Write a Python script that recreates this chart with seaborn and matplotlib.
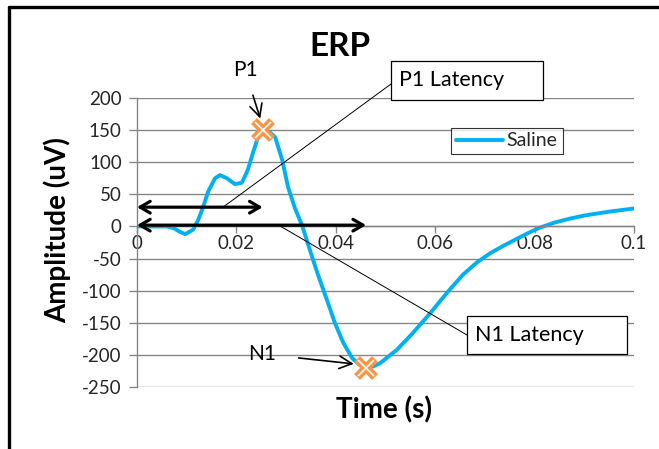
import numpy as np
import pandas as pd
import seaborn as sns
import matplotlib.pyplot as plt
from matplotlib.lines import Line2D
from matplotlib.patches import Rectangle

# ---- data ----
time_s = [0.0, 0.003, 0.006, 0.0075, 0.0085, 0.0097, 0.0113, 0.0123, 0.0133, 0.0143,
          0.0157, 0.0167, 0.0181, 0.0197, 0.0211, 0.0223, 0.0233, 0.0243, 0.0253, 0.0265,
          0.0278, 0.0292, 0.0304, 0.0318, 0.0332, 0.0348, 0.0364, 0.0382, 0.0398, 0.0415,
          0.0433, 0.0447, 0.0461, 0.0475, 0.0489, 0.0523, 0.0555, 0.0590, 0.0624, 0.0656,
          0.0684, 0.0710, 0.0735, 0.0760, 0.0785, 0.0810, 0.0840, 0.0870, 0.0900, 0.0950,
          0.1000]
amplitude_uv = [0, 0, 0, -3, -8, -12, -5, 10, 30, 54,
                75, 80, 75, 66, 68, 88, 114, 138, 150, 148,
                139, 104, 61, 28, 2, -37, -75, -114, -150, -181,
                -205, -215, -220, -218, -213, -192, -166, -135, -103, -75,
                -56, -42, -31, -21, -11, -2, 6, 12, 17, 23,
                28]
peak_labels = ["P1", "N1"]
peak_time = [0.0253, 0.0461]
peak_amp = [150, -220]
latency_labels = ["P1 Latency", "N1 Latency"]
latency_arrow_y = [30, 2]
series_name = "Saline"
y_ticks = [200, 150, 100, 50, 0, -50, -100, -150, -200, -250]
x_ticks = [0, 0.02, 0.04, 0.06, 0.08, 0.1]
x_tick_labels = ["0", "0.02", "0.04", "0.06", "0.08", "0.1"]

df = pd.DataFrame({"Time (s)": time_s, "Amplitude (uV)": amplitude_uv,
                   "series": series_name})

sns.set_theme(style="white")
plt.rcParams['font.family'] = ['Lato', 'DejaVu Sans']

W, H = 659, 449
fig = plt.figure(figsize=(W / 100, H / 100), dpi=100)
ax = fig.add_axes([137 / W, 1 - 387 / H, (634 - 137) / W, (387 - 98) / H])

line_col = "#00B0F0"
grid_col = "#868686"
txt_col = "#262626"
sns.lineplot(data=df, x="Time (s)", y="Amplitude (uV)", hue="series",
             palette=[line_col], linewidth=2.8, ax=ax, legend=False)
ax.lines[0].set_solid_joinstyle("round")

# peak markers (Excel style x)
ax.plot(peak_time, peak_amp, linestyle="none", marker="x", ms=13, mew=6,
        color="#F79646", zorder=5)
ax.plot(peak_time, peak_amp, linestyle="none", marker="x", ms=11, mew=1.2,
        color="white", zorder=6)

ax.set_xlim(0, 0.1)
ax.set_ylim(-250, 200)
ax.set_yticks(y_ticks)
ax.set_yticklabels([str(v) for v in y_ticks])
ax.set_xticks(x_ticks)
ax.set_xticklabels(x_tick_labels)
ax.yaxis.grid(True, color=grid_col, lw=1.0)
ax.xaxis.grid(False)
for s in ["top", "right"]:
    ax.spines[s].set_visible(False)
ax.spines["left"].set_color(grid_col)
ax.spines["left"].set_linewidth(1.0)
ax.spines["bottom"].set_position(("data", 0))
ax.spines["bottom"].set_color(grid_col)
ax.spines["bottom"].set_linewidth(1.0)
ax.tick_params(axis="y", which="major", left=True, length=6, width=1,
               color=grid_col, labelsize=13.5, labelcolor=txt_col, pad=5)
ax.tick_params(axis="x", which="major", bottom=True, direction="out", length=5,
               width=1, color=grid_col, labelsize=13.5, labelcolor=txt_col, pad=1)
ax.set_xlabel("")
ax.set_ylabel("")

fig.text(340 / W, 1 - 46 / H, "ERP", ha="center", va="center",
         fontsize=24, fontweight="bold", color="black")
fig.text(57 / W, 1 - 230 / H, "Amplitude (uV)", ha="center", va="center",
         rotation=90, fontsize=20, fontweight="bold", color="black")
fig.text(384 / W, 1 - 410 / H, "Time (s)", ha="center", va="center",
         fontsize=20, fontweight="bold", color="black")

# legend
leg_handle = Line2D([0], [0], color=line_col, lw=2.8)
leg = ax.legend([leg_handle], [series_name], loc="center",
                bbox_to_anchor=((507 - 137) / (634 - 137), (387 - 141) / (387 - 98)),
                frameon=True, fancybox=False, fontsize=14, handlelength=2.4,
                handletextpad=0.2, borderpad=0.25, labelcolor=txt_col)
leg.get_frame().set_edgecolor("black")
leg.get_frame().set_linewidth(0.8)

# double-headed latency arrows
arrow_kw = dict(arrowstyle="<->,head_length=0.6,head_width=0.35", lw=2.3,
                color="black", shrinkA=0, shrinkB=0)
ax.annotate("", xy=(peak_time[0], latency_arrow_y[0]),
            xytext=(0, latency_arrow_y[0]), arrowprops=arrow_kw, zorder=7)
ax.annotate("", xy=(peak_time[1], latency_arrow_y[1]),
            xytext=(0, latency_arrow_y[1]), arrowprops=arrow_kw, zorder=7)

# peak label arrows
ax.annotate(peak_labels[0], xy=(peak_time[0] - 0.0005, peak_amp[0] + 18),
            xytext=(245 / W, 1 - 70 / H), textcoords="figure fraction",
            ha="center", va="center", fontsize=15, color="black",
            arrowprops=dict(arrowstyle="->,head_length=0.6,head_width=0.3",
                            lw=1.2, color="black", shrinkA=9, shrinkB=0))
ax.annotate(peak_labels[1], xy=(peak_time[1] - 0.0025, peak_amp[1] + 6),
            xytext=(262 / W, 1 - 354 / H), textcoords="figure fraction",
            ha="center", va="center", fontsize=15, color="black",
            arrowprops=dict(arrowstyle="->,head_length=0.6,head_width=0.3",
                            lw=1.2, color="black", shrinkA=14, shrinkB=0))

# callout boxes
def callout(x0, y0, x1, y1, text, anchor_px, data_pt):
    r = Rectangle((x0 / W, 1 - y1 / H), (x1 - x0) / W, (y1 - y0) / H,
                  transform=fig.transFigure, facecolor="white",
                  edgecolor="black", lw=0.9, zorder=10)
    fig.add_artist(r)
    fig.text((x0 + 8) / W, 1 - (y0 + y1) / 2 / H, text, ha="left",
             va="center", fontsize=15.5, color="black", zorder=11)
    ax.annotate("", xy=data_pt, xycoords="data",
                xytext=(anchor_px[0] / W, 1 - anchor_px[1] / H),
                textcoords="figure fraction",
                arrowprops=dict(arrowstyle="-", lw=0.7, color="black",
                                shrinkA=0, shrinkB=0), zorder=4)

callout(391, 61, 543, 100, latency_labels[0], (391, 84),
        (0.0173, latency_arrow_y[0]))
callout(467, 316, 627, 354, latency_labels[1], (467, 335),
        (0.0285, latency_arrow_y[1]))

# outer frame (left and top edges)
fig.add_artist(Line2D([9 / W, 9 / W], [0, 1 - 7 / H], transform=fig.transFigure,
                      color="black", lw=2.4))
fig.add_artist(Line2D([9 / W, 1], [1 - 7 / H, 1 - 7 / H], transform=fig.transFigure,
                      color="black", lw=2.4))

fig.savefig("out.png", dpi=100)
